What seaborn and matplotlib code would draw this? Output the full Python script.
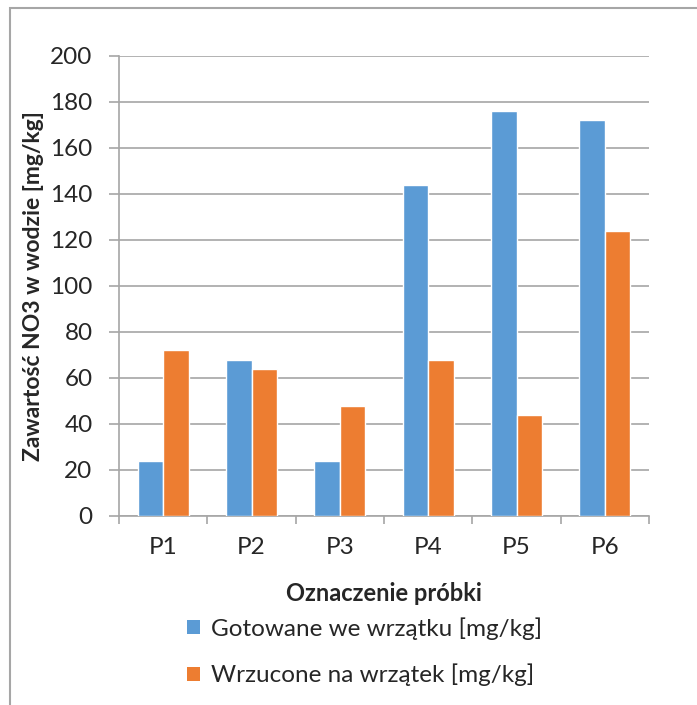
import matplotlib
matplotlib.use("Agg")
import matplotlib.pyplot as plt
from matplotlib.patches import Rectangle, Patch
import seaborn as sns
import pandas as pd

# Sample labels and nitrate content for the two preparation methods
samples = ["P1", "P2", "P3", "P4", "P5", "P6"]
boiled = [24, 68, 24, 144, 176, 172]
dropped = [72, 64, 48, 68, 44, 124]
series_names = ["Gotowane we wrzątku [mg/kg]", "Wrzucone na wrzątek [mg/kg]"]
y_ticks = [0, 20, 40, 60, 80, 100, 120, 140, 160, 180, 200]

colors = ["#5B9BD5", "#ED7D31"]
grid_color = "#A6A6A6"
tick_fs = 17.5

sns.set_theme(style="white")
plt.rcParams["font.family"] = ["Lato", "DejaVu Sans"]

df = pd.DataFrame({
    "sample": samples * 2,
    "value": boiled + dropped,
    "series": [series_names[0]] * len(samples) + [series_names[1]] * len(samples),
})

fig = plt.figure(figsize=(6.97, 7.05), dpi=100)
ax = fig.add_axes([119 / 697, 1 - 516 / 705, (649 - 119) / 697, (516 - 56) / 705])

sns.barplot(data=df, x="sample", y="value", hue="series", palette=colors,
            width=0.58, gap=0, saturation=1, ax=ax, legend=False, zorder=3)

ax.set_ylim(0, 200)
ax.set_xlim(-0.5, len(samples) - 0.5)
ax.set_yticks(y_ticks)
ax.set_yticklabels([str(t) for t in y_ticks], fontsize=tick_fs)

# category boundaries carry the tick marks, labels sit at category centres
ax.set_xticks([i - 0.5 for i in range(len(samples) + 1)])
ax.set_xticklabels([])
ax.set_xticks(range(len(samples)), minor=True)
ax.set_xticklabels(samples, minor=True, fontsize=tick_fs)
ax.tick_params(axis="x", which="major", direction="out", length=6, width=1.2,
               color=grid_color, bottom=True)
ax.tick_params(axis="x", which="minor", length=0, pad=15)
ax.tick_params(axis="y", direction="out", length=7, width=1.2, color=grid_color,
               left=True, pad=12)

ax.yaxis.grid(True, color=grid_color, linewidth=1.2, zorder=0)
ax.set_axisbelow(True)
for side in ["top", "right"]:
    ax.spines[side].set_visible(False)
for side in ["left", "bottom"]:
    ax.spines[side].set_color(grid_color)
    ax.spines[side].set_linewidth(1.2)

ax.set_xlabel("Oznaczenie próbki", fontsize=17, fontweight="bold")
ax.set_ylabel("Zawartość NO3 w wodzie [mg/kg]", fontsize=16.5, fontweight="bold")
ax.xaxis.set_label_coords(0.5, (516 - 582) / 460)
ax.yaxis.set_label_coords((44 - 119) / 530, 0.5)

handles = [Patch(facecolor=c, edgecolor="none") for c in colors]
fig.legend(handles, series_names, loc="upper left",
           bbox_to_anchor=(165 / 697, 1 - 595 / 705), frameon=False,
           fontsize=tick_fs, handlelength=0.55, handleheight=0.55,
           handletextpad=0.45, labelspacing=1.0)

# outer chart frame
fig.patches.append(Rectangle((9.5 / 697, -0.1), 1.2, 0.1 + 1 - 8.5 / 705,
                             transform=fig.transFigure, fill=False,
                             edgecolor="#A6A6A6", linewidth=1.5))

fig.savefig("out.png", dpi=100, facecolor="white")
